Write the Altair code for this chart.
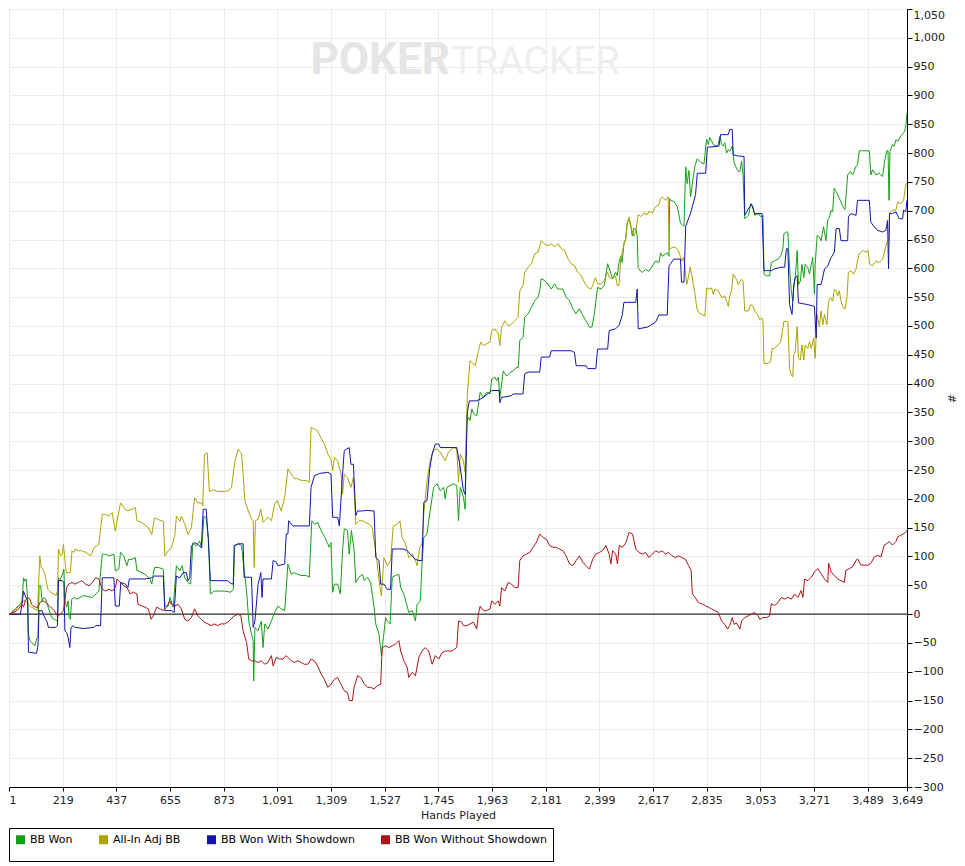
import altair as alt
import pandas as pd

SERIES = ["BB Won", "All-In Adj BB", "BB Won With Showdown", "BB Won Without Showdown"]
COLORS = ["#14a014", "#aca400", "#1414aa", "#aa1414"]
X_TICKS = [1, 219, 437, 655, 873, 1091, 1309, 1527, 1745, 1963, 2181, 2399,
           2617, 2835, 3053, 3271, 3489, 3649]
Y_TICKS = list(range(-300, 1051, 50))

BB_WON = [(1,0),(4,0),(25,9),(38,14),(47,17),(54,23),(60,63),(66,57),(71,61),(77,23),(80,-35),(86,-46),(93,-49),(99,-52),(106,-55),(113,-43),(119,-40),(123,49),(130,49),(135,23),(143,29),(150,26),(159,14),(165,6),(174,-6),(185,-9),(198,-12),(201,63),(208,58),(218,69),(224,78),(228,23),(235,12),(241,23),(245,-6),(250,-9),(256,26),(264,29),(277,26),(290,29),(303,32),(340,29),(366,40),(380,104),(393,104),(407,101),(427,104),(433,75),(447,78),(454,107),(467,101),(480,84),(487,95),(500,95),(514,98),(521,75),(527,75),(554,69),(574,61),(581,52),(592,81),(608,81),(628,78),(634,14),(648,14),(655,29),(668,12),(681,84),(695,75),(704,84),(715,63),(728,55),(739,52),(748,124),(762,118),(775,127),(784,115),(793,170),(802,167),(811,133),(819,35),(835,40),(876,40),(902,38),(912,43),(918,118),(932,122),(946,119),(952,93),(966,41),(975,-12),(986,-35),(993,-46),(995,-116),(1000,-23),(1013,-29),(1026,-12),(1033,-58),(1040,-17),(1053,-26),(1067,-12),(1080,3),(1094,14),(1107,9),(1121,6),(1134,87),(1148,69),(1161,72),(1174,69),(1188,67),(1208,67),(1221,64),(1231,162),(1242,156),(1255,159),(1269,145),(1282,135),(1296,122),(1302,116),(1309,124),(1316,38),(1323,52),(1336,52),(1347,35),(1356,110),(1363,148),(1376,145),(1383,104),(1392,145),(1403,110),(1410,55),(1423,64),(1437,69),(1444,58),(1457,64),(1470,55),(1484,12),(1491,-17),(1504,-35),(1514,-72),(1522,-41),(1531,-6),(1538,-12),(1549,-17),(1558,64),(1571,67),(1585,69),(1592,46),(1605,35),(1625,3),(1639,6),(1652,-12),(1659,17),(1672,23),(1679,87),(1686,133),(1699,139),(1706,162),(1726,220),(1740,226),(1753,214),(1767,220),(1773,200),(1780,220),(1793,223),(1807,226),(1820,223),(1827,162),(1834,220),(1847,203),(1854,182),(1861,336),(1868,341),(1874,336),(1881,356),(1888,348),(1901,344),(1915,385),(1928,376),(1941,385),(1955,382),(1962,408),(1975,411),(1982,405),(1989,411),(1995,376),(2009,422),(2022,413),(2036,419),(2049,422),(2063,428),(2070,428),(2076,475),(2089,480),(2096,515),(2110,521),(2123,532),(2137,544),(2150,550),(2157,561),(2163,582),(2177,579),(2190,573),(2204,564),(2217,573),(2231,564),(2251,564),(2264,550),(2278,544),(2291,530),(2304,521),(2318,530),(2332,518),(2345,509),(2359,498),(2369,498),(2379,521),(2392,567),(2406,564),(2419,570),(2433,608),(2440,599),(2453,582),(2465,593),(2472,587),(2479,610),(2486,621),(2492,610),(2499,644),(2506,650),(2513,681),(2520,684),(2526,678),(2533,656),(2540,670),(2549,667),(2553,656),(2557,601),(2567,595),(2574,593),(2587,598),(2601,595),(2614,604),(2628,613),(2641,610),(2648,627),(2655,621),(2666,624),(2675,627),(2682,621),(2685,721),(2689,718),(2702,716),(2716,707),(2729,678),(2736,676),(2743,673),(2750,776),(2756,747),(2763,770),(2770,724),(2777,747),(2788,779),(2797,790),(2811,784),(2824,781),(2835,824),(2842,815),(2848,827),(2855,821),(2862,815),(2875,812),(2882,815),(2889,829),(2896,815),(2902,812),(2909,818),(2916,800),(2923,806),(2929,803),(2939,812),(2947,783),(2956,774),(2963,768),(2970,768),(2977,786),(2983,762),(2990,686),(2997,689),(3006,692),(3014,712),(3024,706),(3030,692),(3044,695),(3057,689),(3064,692),(3068,590),(3078,587),(3091,587),(3098,610),(3111,613),(3125,616),(3136,622),(3145,634),(3149,660),(3159,663),(3165,663),(3172,601),(3179,561),(3185,543),(3189,566),(3195,584),(3203,631),(3208,572),(3216,578),(3222,607),(3230,584),(3235,607),(3246,601),(3253,590),(3260,607),(3266,619),(3273,555),(3276,607),(3284,657),(3293,654),(3300,648),(3310,672),(3320,648),(3327,684),(3334,689),(3341,701),(3347,698),(3353,739),(3362,733),(3381,715),(3388,707),(3397,702),(3408,762),(3419,768),(3428,762),(3442,777),(3448,780),(3455,804),(3469,804),(3482,804),(3496,804),(3502,762),(3509,771),(3523,762),(3536,765),(3550,759),(3557,783),(3567,804),(3572,804),(3576,718),(3580,803),(3590,815),(3597,812),(3604,823),(3613,821),(3624,830),(3635,835),(3640,838),(3645,850),(3649,870)]

ALL_IN_ADJ = [(1,0),(4,0),(25,6),(47,17),(60,23),(71,23),(80,17),(93,12),(106,9),(117,6),(126,101),(132,81),(139,78),(145,72),(152,58),(159,43),(172,37),(185,35),(191,32),(198,40),(202,113),(211,101),(218,104),(222,121),(227,101),(231,81),(235,72),(250,72),(257,110),(264,107),(270,113),(283,110),(296,110),(313,107),(333,101),(346,115),(366,121),(380,173),(393,173),(407,170),(420,176),(433,144),(440,162),(454,193),(467,185),(480,179),(500,182),(514,185),(521,162),(541,159),(567,150),(581,138),(592,167),(608,164),(628,161),(634,101),(648,110),(661,115),(675,138),(681,170),(695,161),(701,170),(715,156),(728,138),(742,150),(755,202),(768,193),(782,193),(788,188),(795,277),(806,280),(815,213),(829,216),(849,213),(876,213),(892,214),(905,220),(919,266),(932,286),(946,278),(952,243),(959,197),(973,179),(986,165),(993,162),(997,81),(1002,162),(1013,165),(1024,182),(1033,159),(1040,162),(1053,168),(1067,162),(1080,191),(1091,197),(1107,179),(1121,203),(1134,252),(1148,243),(1161,235),(1174,235),(1188,232),(1208,232),(1221,229),(1228,324),(1242,321),(1255,318),(1269,305),(1282,296),(1296,278),(1309,269),(1316,249),(1323,272),(1336,266),(1350,243),(1356,208),(1363,243),(1376,237),(1390,220),(1400,237),(1410,156),(1423,162),(1437,162),(1450,159),(1464,156),(1477,150),(1491,107),(1497,87),(1508,46),(1514,32),(1524,98),(1538,84),(1551,93),(1562,153),(1578,156),(1589,162),(1598,133),(1612,122),(1625,98),(1639,104),(1652,93),(1659,84),(1670,116),(1679,122),(1686,174),(1699,231),(1712,266),(1726,284),(1740,287),(1753,281),(1773,266),(1786,281),(1807,289),(1820,287),(1827,229),(1834,278),(1847,266),(1854,246),(1863,382),(1874,440),(1888,434),(1895,431),(1908,457),(1917,472),(1928,466),(1941,469),(1955,472),(1962,492),(1975,495),(1989,486),(1995,466),(2002,498),(2015,509),(2029,500),(2042,503),(2056,509),(2069,515),(2076,561),(2089,570),(2096,593),(2110,602),(2123,608),(2137,625),(2150,628),(2163,648),(2177,642),(2190,639),(2204,643),(2217,637),(2231,643),(2244,634),(2258,631),(2271,617),(2285,608),(2298,605),(2311,593),(2325,588),(2338,576),(2352,567),(2365,564),(2372,570),(2383,584),(2392,573),(2406,573),(2419,579),(2433,593),(2440,584),(2453,582),(2465,587),(2472,570),(2479,570),(2486,616),(2499,641),(2506,650),(2513,678),(2520,689),(2526,673),(2540,656),(2547,664),(2557,693),(2567,690),(2580,696),(2594,693),(2601,699),(2614,696),(2628,707),(2641,710),(2648,721),(2655,724),(2668,718),(2679,724),(2683,633),(2695,636),(2707,637),(2720,631),(2734,613),(2741,619),(2747,602),(2754,572),(2761,584),(2768,602),(2774,590),(2781,572),(2788,555),(2795,531),(2804,523),(2815,520),(2828,517),(2835,566),(2842,564),(2855,566),(2862,555),(2869,564),(2882,561),(2896,549),(2909,552),(2916,543),(2923,534),(2929,552),(2936,561),(2943,590),(2956,581),(2963,572),(2977,581),(2983,578),(2990,526),(3004,526),(3014,537),(3024,534),(3030,526),(3041,520),(3051,511),(3060,514),(3064,508),(3068,435),(3084,435),(3095,438),(3101,461),(3111,461),(3125,467),(3136,473),(3141,485),(3149,508),(3159,508),(3165,508),(3172,426),(3179,415),(3185,412),(3189,450),(3195,456),(3203,499),(3208,444),(3216,441),(3222,467),(3230,441),(3235,467),(3246,461),(3253,473),(3260,461),(3270,479),(3276,444),(3284,520),(3293,499),(3300,526),(3307,502),(3314,520),(3324,502),(3330,543),(3338,549),(3347,543),(3354,564),(3361,561),(3367,552),(3374,561),(3381,543),(3388,534),(3397,529),(3405,549),(3411,593),(3421,596),(3432,590),(3442,599),(3448,613),(3455,625),(3469,631),(3482,628),(3491,631),(3498,607),(3509,604),(3523,613),(3536,610),(3550,616),(3557,628),(3567,645),(3576,650),(3578,695),(3590,701),(3604,701),(3611,715),(3624,712),(3635,718),(3644,745),(3649,748)]

WITH_SHOWDOWN = [(1,0),(4,0),(47,0),(54,17),(60,40),(67,32),(73,26),(77,23),(80,-66),(113,-68),(117,-58),(119,-52),(123,6),(135,6),(143,-3),(156,-14),(161,-23),(191,-23),(198,-20),(202,58),(218,58),(224,55),(228,-29),(235,-32),(241,-40),(248,-58),(253,-23),(261,-20),(270,-23),(303,-25),(346,-23),(353,-20),(373,-20),(380,63),(427,63),(433,14),(449,14),(455,55),(474,52),(484,46),(490,61),(554,61),(581,63),(592,66),(628,66),(634,6),(661,6),(672,3),(681,66),(695,63),(708,72),(721,72),(728,58),(735,63),(742,118),(755,124),(768,121),(782,115),(790,182),(802,182),(811,127),(819,58),(849,58),(889,58),(903,53),(912,52),(916,119),(932,122),(952,122),(956,64),(986,64),(993,-23),(1000,-12),(1013,52),(1024,72),(1029,29),(1033,61),(1067,61),(1074,93),(1087,90),(1094,84),(1121,87),(1127,139),(1134,139),(1137,162),(1148,156),(1154,153),(1221,153),(1228,220),(1242,240),(1262,244),(1296,246),(1309,243),(1316,168),(1336,168),(1343,153),(1356,243),(1363,284),(1383,289),(1390,260),(1400,260),(1410,171),(1417,179),(1437,179),(1450,180),(1484,179),(1491,98),(1504,93),(1511,52),(1524,52),(1538,43),(1551,43),(1558,113),(1605,113),(1619,110),(1632,104),(1652,95),(1666,93),(1679,93),(1686,194),(1699,197),(1710,252),(1720,278),(1733,295),(1747,295),(1753,289),(1820,289),(1834,255),(1847,214),(1854,208),(1863,350),(1871,370),(1901,370),(1928,376),(1962,388),(1992,388),(1995,367),(2002,376),(2042,379),(2049,382),(2089,382),(2096,417),(2110,420),(2157,420),(2163,446),(2197,446),(2204,457),(2285,457),(2298,454),(2305,431),(2345,431),(2352,426),(2385,426),(2392,460),(2433,460),(2439,492),(2465,495),(2479,501),(2492,518),(2499,541),(2547,541),(2553,564),(2557,495),(2594,498),(2607,501),(2628,507),(2641,519),(2675,519),(2682,604),(2702,616),(2729,616),(2733,576),(2743,576),(2750,673),(2770,696),(2790,728),(2797,765),(2831,765),(2838,810),(2885,812),(2892,832),(2923,832),(2929,841),(2939,841),(2943,797),(2963,795),(2987,794),(2990,692),(3017,712),(3030,695),(3060,695),(3068,596),(3098,596),(3111,599),(3138,602),(3152,602),(3159,634),(3165,634),(3172,537),(3182,520),(3189,572),(3195,584),(3203,587),(3208,540),(3246,537),(3273,534),(3280,479),(3284,572),(3300,572),(3314,599),(3327,604),(3341,619),(3354,628),(3361,669),(3374,669),(3381,648),(3408,648),(3411,689),(3421,695),(3442,692),(3448,718),(3496,718),(3502,680),(3516,672),(3529,666),(3550,663),(3563,666),(3570,683),(3574,599),(3578,695),(3590,695),(3604,698),(3617,686),(3631,686),(3635,701),(3644,698),(3649,718)]

WITHOUT_SHOWDOWN = [(1,0),(4,0),(25,4),(40,9),(54,17),(60,12),(67,23),(77,29),(86,26),(93,17),(100,14),(109,12),(119,12),(126,20),(139,23),(152,20),(165,14),(178,9),(185,6),(198,-3),(211,0),(222,6),(228,23),(235,46),(244,52),(257,55),(270,52),(283,55),(296,58),(313,52),(326,49),(340,55),(353,63),(366,61),(380,43),(393,40),(407,43),(420,40),(433,46),(440,61),(454,55),(467,49),(480,46),(494,35),(507,38),(521,35),(525,17),(541,14),(554,12),(567,9),(578,-9),(587,-3),(601,12),(614,9),(628,6),(641,12),(655,23),(661,17),(675,14),(688,17),(701,9),(715,-9),(728,-12),(742,-6),(755,9),(768,-3),(782,-9),(795,-14),(809,-17),(822,-20),(835,-17),(849,-20),(862,-17),(876,-17),(889,-14),(902,-9),(916,-3),(932,0),(943,-3),(952,-29),(966,-49),(975,-78),(986,-81),(1000,-81),(1013,-84),(1026,-81),(1040,-87),(1053,-84),(1067,-72),(1074,-90),(1087,-75),(1100,-78),(1114,-78),(1127,-72),(1148,-81),(1161,-84),(1174,-81),(1188,-84),(1201,-87),(1215,-87),(1228,-78),(1242,-81),(1255,-90),(1269,-104),(1282,-113),(1296,-127),(1309,-122),(1323,-113),(1336,-110),(1350,-122),(1363,-133),(1376,-136),(1383,-150),(1396,-150),(1403,-127),(1417,-107),(1430,-110),(1444,-121),(1457,-127),(1470,-127),(1484,-130),(1497,-124),(1511,-122),(1517,-58),(1531,-55),(1544,-58),(1558,-55),(1571,-52),(1585,-46),(1592,-64),(1605,-81),(1619,-93),(1625,-110),(1639,-101),(1652,-107),(1666,-75),(1679,-64),(1692,-58),(1706,-64),(1720,-87),(1733,-72),(1747,-78),(1760,-67),(1773,-64),(1800,-64),(1820,-58),(1827,-12),(1840,-14),(1847,-20),(1861,-20),(1874,-17),(1888,-14),(1901,-26),(1908,0),(1915,14),(1928,6),(1941,6),(1955,9),(1962,23),(1975,17),(1989,23),(1995,14),(2002,46),(2015,40),(2029,55),(2042,52),(2056,46),(2069,46),(2076,93),(2089,101),(2103,104),(2117,107),(2130,116),(2143,124),(2157,139),(2170,133),(2184,130),(2197,119),(2211,116),(2224,116),(2237,113),(2251,110),(2264,101),(2278,87),(2291,84),(2305,93),(2318,101),(2332,90),(2345,84),(2359,78),(2372,95),(2385,104),(2399,107),(2412,110),(2426,119),(2439,104),(2446,87),(2453,110),(2466,104),(2473,87),(2480,119),(2493,116),(2507,124),(2520,142),(2534,139),(2547,113),(2560,107),(2574,104),(2587,107),(2601,98),(2614,104),(2628,110),(2641,107),(2655,110),(2668,104),(2681,107),(2695,101),(2708,98),(2722,101),(2735,98),(2749,95),(2762,84),(2772,76),(2777,35),(2788,29),(2801,20),(2815,18),(2828,15),(2842,12),(2855,9),(2869,6),(2882,3),(2896,-12),(2909,-18),(2920,-26),(2929,-20),(2939,-6),(2947,-18),(2956,-15),(2970,-26),(2977,-12),(2990,-6),(3004,-3),(3017,0),(3030,3),(3044,-3),(3051,-9),(3064,-6),(3078,-6),(3091,-3),(3098,18),(3111,15),(3125,20),(3138,29),(3152,26),(3165,29),(3179,26),(3192,35),(3206,29),(3219,41),(3226,29),(3233,61),(3246,58),(3260,64),(3273,73),(3287,79),(3300,70),(3314,61),(3327,55),(3331,88),(3341,73),(3354,67),(3367,61),(3381,58),(3394,55),(3401,76),(3415,79),(3428,82),(3442,93),(3448,96),(3462,85),(3475,85),(3489,85),(3502,88),(3516,99),(3529,102),(3543,99),(3557,120),(3570,123),(3576,126),(3590,120),(3604,126),(3611,134),(3624,137),(3638,140),(3644,143),(3649,145)]

rows = []
for name, pts in zip(SERIES, [BB_WON, ALL_IN_ADJ, WITH_SHOWDOWN, WITHOUT_SHOWDOWN]):
    for h, v in pts:
        rows.append({"hand": h, "bb": v, "series": name})
df = pd.DataFrame(rows)

FONT = "DejaVu Sans"

x_enc = alt.X("hand:Q",
              scale=alt.Scale(domain=[1, 3649], nice=False, zero=False),
              axis=alt.Axis(values=X_TICKS, format=",d", title="Hands Played",
                            labelFlush=False, labelOverlap=False, tickSize=4,
                            labelAlign={"condition": {"test": "datum.value == 1", "value": "left"},
                                        "value": "center"},
                            labelPadding=3, titlePadding=4))
y_enc = alt.Y("bb:Q",
              scale=alt.Scale(domain=[-300, 1050], nice=False, zero=False),
              axis=alt.Axis(orient="right", values=Y_TICKS, format=",d", title="#",
                            labelFlush=False, labelOverlap=False, tickSize=5,
                            labelBaseline={"condition": {"test": "datum.value == 1050", "value": "top"},
                                           "value": "middle"},
                            labelPadding=1, titlePadding=1))
color_scale = alt.Scale(domain=SERIES, range=COLORS)

wm_p = alt.Chart(pd.DataFrame({"t": ["POKER"]})).mark_text(
    font="Roboto", fontSize=44, fontWeight="bold", color="#e5e5e5",
    align="right", baseline="alphabetic"
).encode(text="t:N", x=alt.value(441), y=alt.value(65))

wm_t = alt.Chart(pd.DataFrame({"t": ["TRACKER"]})).mark_text(
    font="Roboto", fontSize=39, fontWeight="normal", color="#eeeeee",
    align="left", baseline="alphabetic"
).encode(text="t:N", x=alt.value(442), y=alt.value(65))

zero = alt.Chart(pd.DataFrame({"bb": [0]})).mark_rule(
    color="black", strokeWidth=1
).encode(y=y_enc)

lines = alt.Chart(df).mark_line(strokeWidth=1, clip=True).encode(
    x=x_enc, y=y_enc,
    color=alt.Color("series:N", scale=color_scale, sort=SERIES,
                    legend=alt.Legend(title=None, orient="none", legendX=0, legendY=819,
                                      direction="horizontal", columns=4,
                                      symbolType="square", symbolSize=4,
                                      symbolStrokeWidth=7,
                                      labelFont=FONT, labelFontSize=11,
                                      labelColor="black", labelOffset=4,
                                      columnPadding=15, padding=6,
                                      strokeColor="black", fillColor="white")),
)

chart = alt.layer(wm_p, wm_t, zero, lines).properties(
    width=898, height=778, padding=0
).configure_view(
    stroke="black", strokeWidth=1
).configure_axis(
    gridColor="#ebebeb", gridWidth=1, domainColor="black", tickColor="black",
    labelColor="#222", labelFont=FONT, labelFontSize=11,
    titleFont=FONT, titleFontSize=11, titleFontWeight="normal", titleColor="#222"
)

chart.save("out.html", embed_options={"renderer": "svg", "actions": False})
